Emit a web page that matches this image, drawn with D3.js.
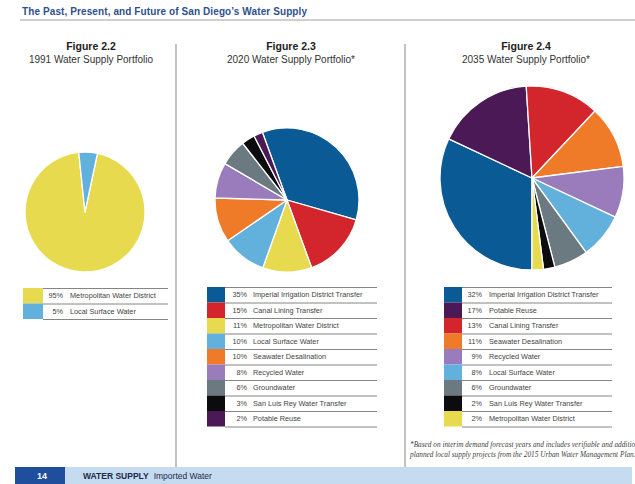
<!DOCTYPE html>
<html>
<head>
<meta charset="utf-8">
<script src="https://cdn.jsdelivr.net/npm/d3@7/dist/d3.min.js"></script>
<style>
  body { margin: 0; background: #fff; }
  svg { display: block; font-family: "Liberation Sans", Arial, sans-serif; }
</style>
</head>
<body>
<svg id="chart" width="635" height="484"></svg>
<script>
// source names + colours
const sourceColors = {
    "Imperial Irrigation District Transfer": "#0a5b95",
    "Canal Lining Transfer": "#d3252c",
    "Metropolitan Water District": "#e7da4f",
    "Local Surface Water": "#62b0dc",
    "Seawater Desalination": "#ef7a28",
    "Recycled Water": "#9a7cbd",
    "Groundwater": "#6b7a80",
    "San Luis Rey Water Transfer": "#0c0c0e",
    "Potable Reuse": "#4a1956"
};

const labels1991 = ["Metropolitan Water District", "Local Surface Water"];
const values1991 = [95, 5];

const labels2020 = ["Imperial Irrigation District Transfer", "Canal Lining Transfer", "Metropolitan Water District",
    "Local Surface Water", "Seawater Desalination", "Recycled Water", "Groundwater",
    "San Luis Rey Water Transfer", "Potable Reuse"];
const values2020 = [35, 15, 11, 10, 10, 8, 6, 3, 2];

const labels2035 = ["Imperial Irrigation District Transfer", "Potable Reuse", "Canal Lining Transfer",
    "Seawater Desalination", "Recycled Water", "Local Surface Water", "Groundwater",
    "San Luis Rey Water Transfer", "Metropolitan Water District"];
const values2035 = [32, 17, 13, 11, 9, 8, 6, 2, 2];

const figTitles = ["Figure 2.2", "Figure 2.3", "Figure 2.4"];
const figSubtitles = ["1991 Water Supply Portfolio", "2020 Water Supply Portfolio*", "2035 Water Supply Portfolio*"];

let svg = d3.select("#chart");
const deg = Math.PI / 180;

// page header
svg.append("text")
    .attr("x", 22).attr("y", 15)
    .attr("font-size", 10).attr("font-weight", "bold")
    .attr("fill", "#2f4f8e")
    .attr("textLength", 285)
    .text("The Past, Present, and Future of San Diego\u2019s Water Supply");
svg.append("line")
    .attr("x1", 20).attr("x2", 635).attr("y1", 20).attr("y2", 20)
    .attr("stroke", "#a0a0a0").attr("stroke-width", 1);

// column dividers
[176, 405].forEach(x => {
    svg.append("line")
        .attr("x1", x).attr("x2", x).attr("y1", 44).attr("y2", 467)
        .attr("stroke", "#9a9a9a").attr("stroke-width", 1.2);
});

let panels = [
    {labels: labels1991, values: values1991, cx: 85, cy: 212, r: 60, start: 12, titleX: 91,
        legend: {x: 23, y: 288, sw: 20, pctX: 63, labX: 70, lineEnd: 168}},
    {labels: labels2020, values: values2020, cx: 287, cy: 200, r: 72, start: -20, titleX: 291,
        legend: {x: 207, y: 287, sw: 18, pctX: 247, labX: 253, lineEnd: 377}},
    {labels: labels2035, values: values2035, cx: 532, cy: 178, r: 92, start: 180, titleX: 526,
        legend: {x: 444, y: 287, sw: 18, pctX: 482, labX: 489, lineEnd: 612}}
];

panels.forEach((p, k) => {
    svg.append("text")
        .attr("x", p.titleX).attr("y", 50)
        .attr("text-anchor", "middle")
        .attr("font-size", 10.5).attr("font-weight", "bold").attr("fill", "#222")
        .text(figTitles[k]);
    svg.append("text")
        .attr("x", p.titleX).attr("y", 62.5)
        .attr("text-anchor", "middle")
        .attr("font-size", 10).attr("fill", "#333")
        .text(figSubtitles[k]);

    let data = p.labels.map((l, i) => ({label: l, value: p.values[i]}));

    let pie = d3.pie()
        .sort(null)
        .value(d => d.value)
        .startAngle(p.start * deg)
        .endAngle(p.start * deg + 2 * Math.PI);
    let arc = d3.arc().innerRadius(0).outerRadius(p.r);

    svg.append("g")
        .attr("transform", "translate(" + p.cx + "," + p.cy + ")")
        .selectAll("path")
        .data(pie(data))
        .enter()
        .append("path")
        .attr("d", arc)
        .attr("fill", d => sourceColors[d.data.label])
        .attr("stroke", "#fff")
        .attr("stroke-width", 1.3)
        .attr("stroke-linejoin", "round");

    // legend table
    let L = p.legend, rowH = 15.5;
    let y = d3.scaleBand()
        .domain(p.labels)
        .range([L.y, L.y + rowH * p.labels.length])
        .padding(0);

    let g = svg.append("g");
    g.selectAll("rect")
        .data(data)
        .enter()
        .append("rect")
        .attr("x", L.x).attr("y", d => y(d.label))
        .attr("width", L.sw).attr("height", y.bandwidth())
        .attr("fill", d => sourceColors[d.label]);

    g.selectAll("line")
        .data(d3.range(p.labels.length + 1))
        .enter()
        .append("line")
        .attr("x1", L.x + L.sw).attr("x2", L.lineEnd)
        .attr("y1", i => L.y + i * y.bandwidth() + 0.5)
        .attr("y2", i => L.y + i * y.bandwidth() + 0.5)
        .attr("stroke", "#666").attr("stroke-width", 0.8);

    g.selectAll("text.pct")
        .data(data)
        .enter()
        .append("text")
        .attr("class", "pct")
        .attr("x", L.pctX).attr("y", d => y(d.label) + y.bandwidth() / 2 + 2.6)
        .attr("text-anchor", "end")
        .attr("font-size", 7.3).attr("fill", "#444")
        .text(d => d.value + "%");

    g.selectAll("text.lab")
        .data(data)
        .enter()
        .append("text")
        .attr("class", "lab")
        .attr("x", L.labX).attr("y", d => y(d.label) + y.bandwidth() / 2 + 2.6)
        .attr("font-size", 7.3).attr("fill", "#444")
        .text(d => d.label);
});

// footnote
let note = svg.append("g")
    .attr("font-family", "'Liberation Serif', 'DejaVu Serif', serif")
    .attr("font-style", "italic")
    .attr("font-size", 7.3)
    .attr("fill", "#444");
note.append("text").attr("x", 410).attr("y", 447)
    .text("*Based on interim demand forecast years and includes verifiable and additional");
note.append("text").attr("x", 410).attr("y", 456.5)
    .text("planned local supply projects from the 2015 Urban Water Management Plan.");

// footer band
svg.append("rect").attr("x", 15).attr("y", 467).attr("width", 617).attr("height", 17).attr("fill", "#c4dbf0");
svg.append("rect").attr("x", 15).attr("y", 467).attr("width", 50).attr("height", 17).attr("fill", "#1f4f9c");
svg.append("text").attr("x", 42).attr("y", 479)
    .attr("text-anchor", "middle").attr("font-size", 9).attr("font-weight", "bold").attr("fill", "#fff")
    .text("14");
svg.append("text").attr("x", 83).attr("y", 479)
    .attr("font-size", 8.5).attr("fill", "#1c2a4e")
    .html('<tspan font-weight="bold">WATER SUPPLY</tspan><tspan dx="5">Imported Water</tspan>');
</script>
</body>
</html>
